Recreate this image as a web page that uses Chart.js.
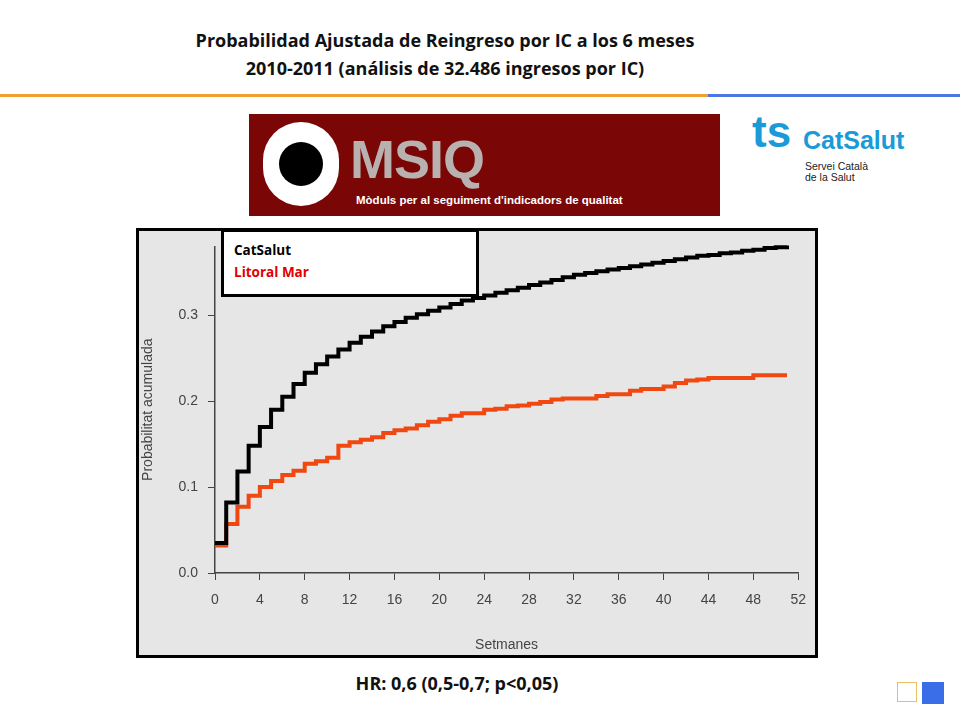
<!DOCTYPE html>
<html><head><meta charset="utf-8">
<script src="https://cdn.jsdelivr.net/npm/chart.js@4"></script>
<style>
body{margin:0;width:960px;height:720px;background:#fff;position:relative;overflow:hidden;font-family:"Open Sans","Liberation Sans",sans-serif}
.a{position:absolute}
</style></head><body>
<div class="a" style="left:0;top:26px;width:890px;text-align:center;font-weight:bold;font-size:18px;line-height:28px;color:#111">Probabilidad Ajustada de Reingreso por IC a los 6 meses<br>2010-2011 (análisis de 32.486 ingresos por IC)</div>
<div class="a" style="left:0;top:94px;width:708px;height:3px;background:#f0a030"></div>
<div class="a" style="left:708px;top:94px;width:252px;height:3px;background:#4a78e0"></div>
<div class="a" style="left:249px;top:114px;width:471px;height:102px;background:#7a0606"></div>
<div class="a" style="left:263px;top:122px;width:76px;height:84px;background:#fff;border-radius:38px"></div>
<div class="a" style="left:279px;top:142px;width:44px;height:44px;background:#000;border-radius:22px"></div>
<div class="a" style="left:350px;top:128px;font-family:'Liberation Sans';font-weight:bold;font-size:54px;color:#b9b0b0;letter-spacing:-1px">MSIQ</div>
<div class="a" style="left:356px;top:194px;font-family:'Liberation Sans';font-weight:bold;font-size:11.5px;color:#fff">Mòduls per al seguiment d'indicadors de qualitat</div>
<div class="a" style="left:752px;top:112px;width:40px;height:40px;color:#1a9ad8;font-family:'Liberation Sans';font-weight:bold;font-size:44px;line-height:40px">ts</div>
<div class="a" style="left:803px;top:126px;font-family:'Liberation Sans';font-weight:bold;font-size:25px;color:#1a9ad8">CatSalut</div>
<div class="a" style="left:805px;top:161px;font-family:'Liberation Sans';font-size:10.5px;line-height:11px;color:#222">Servei Català<br>de la Salut</div>
<canvas id="c" class="a" style="left:136px;top:228px;width:682px;height:430px;background:#e6e6e6"></canvas>
<div class="a" style="left:136px;top:228px;width:676px;height:424px;border:3px solid #000"></div>
<div class="a" style="left:221px;top:229px;width:242px;height:55px;border:3px solid #000;background:#fff;font-weight:bold;font-size:13.5px;line-height:22px;padding:7px 0 0 10px;box-sizing:content-box"><div>CatSalut</div><div style="color:#e00000">Litoral Mar</div></div>
<div class="a" style="left:0;top:671px;width:914px;text-align:center;font-weight:bold;font-size:18px;color:#111">HR: 0,6 (0,5-0,7; p&lt;0,05)</div>
<div class="a" style="left:897px;top:682px;width:20px;height:20px;border:1px solid #e8c060;box-sizing:border-box"></div>
<div class="a" style="left:922px;top:682px;width:22px;height:22px;background:#3a6ee8"></div>
<script>
const weeks=[];for(let i=0;i<=51;i++)weeks.push(i);
const catsalut=[0.035,0.082,0.118,0.148,0.170,0.190,0.205,0.220,0.233,0.243,0.252,0.260,0.268,0.275,0.281,0.287,0.292,0.297,0.301,0.305,0.309,0.313,0.317,0.320,0.323,0.326,0.329,0.332,0.335,0.338,0.341,0.344,0.347,0.349,0.351,0.353,0.355,0.357,0.359,0.361,0.363,0.365,0.367,0.369,0.370,0.372,0.373,0.375,0.376,0.378,0.379,0.381];
const litoral=[0.032,0.057,0.077,0.090,0.100,0.107,0.114,0.119,0.127,0.130,0.134,0.148,0.152,0.155,0.158,0.163,0.166,0.168,0.172,0.176,0.179,0.183,0.186,0.186,0.190,0.191,0.194,0.195,0.197,0.199,0.202,0.203,0.203,0.203,0.206,0.208,0.208,0.212,0.214,0.214,0.217,0.221,0.224,0.225,0.227,0.227,0.227,0.227,0.230,0.230,0.230,0.230];
const xTicks=[0,4,8,12,16,20,24,28,32,36,40,44,48,52];
const mk=(v)=>weeks.map((w,i)=>({x:w,y:v[i]}));
new Chart(document.getElementById('c'),{type:'line',
data:{datasets:[
{data:mk(catsalut),borderColor:'#000',borderWidth:4,stepped:'before',pointRadius:0,clip:false},
{data:mk(litoral),borderColor:'#f04810',borderWidth:4,stepped:'before',pointRadius:0,clip:false}]},
options:{responsive:false,animation:false,devicePixelRatio:1,
layout:{padding:{left:0,right:18,top:0,bottom:0}},
plugins:{legend:{display:false},tooltip:{enabled:false}},
scales:{
x:{type:'linear',min:0,max:52,afterBuildTicks:s=>{s.ticks=xTicks.map(v=>({value:v}))},
afterFit:s=>{s.height=85},
grid:{drawOnChartArea:false,color:'#444',tickLength:7},border:{color:'#444',width:1.5},
ticks:{color:'#444',font:{family:'Liberation Sans',size:14},padding:12},
title:{display:true,text:'Setmanes',color:'#444',font:{family:'Liberation Sans',size:14},padding:{top:14}}},
y:{min:0,max:0.38,afterBuildTicks:s=>{s.ticks=[0,0.1,0.2,0.3].map(v=>({value:v}))},
afterFit:s=>{s.width=79},
grid:{drawOnChartArea:false,color:'#444',tickLength:7},border:{color:'#444',width:1.5},
ticks:{color:'#444',font:{family:'Liberation Sans',size:14},padding:10,callback:v=>v.toFixed(1)},
title:{display:true,text:'Probabilitat acumulada',color:'#444',font:{family:'Liberation Sans',size:14},padding:{bottom:0}}}}}});
</script></body></html>
